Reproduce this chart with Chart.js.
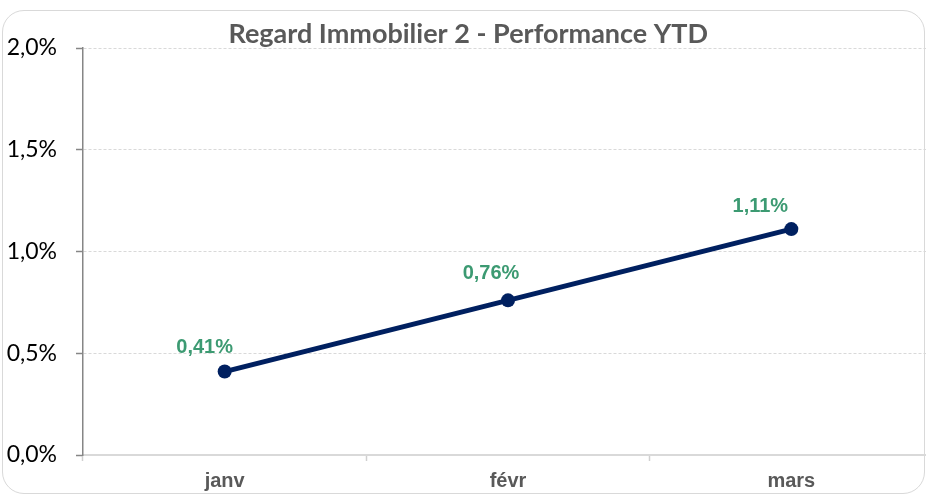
<!DOCTYPE html>
<html>
<head>
<meta charset="utf-8">
<script src="https://cdn.jsdelivr.net/npm/chart.js@4.4.1/dist/chart.umd.min.js"></script>
<style>
    html, body { margin: 0; padding: 0; background: #fff; overflow: hidden; }
    #cadre {
        position: absolute; left: 2px; top: 10px; width: 921px; height: 482px;
        border: 1px solid #d9d9d9; border-radius: 22px;
    }
    #zone { position: absolute; left: 0; top: 0; width: 940px; height: 497px; }
</style>
</head>
<body>
<div id="cadre"></div>
<div id="zone"><canvas id="grafico" width="940" height="497"></canvas></div>
<script>
const titre = 'Regard Immobilier 2 - Performance YTD';
const mois = ['janv', 'févr', 'mars'];
const performance = [0.41, 0.76, 1.11];
const ticksY = [0, 0.5, 1, 1.5, 2];

// petits décalages des étiquettes (placées à la main dans l'original)
const decalages = [[-20, -24], [-17, -27], [-31, -23]];

function pct(v, d) {
    return v.toFixed(d).replace('.', ',') + '%';
}

const etiquettes = {
    id: 'etiquettes',
    afterDatasetsDraw(chart) {
        const ctx = chart.ctx;
        const meta = chart.getDatasetMeta(0);
        ctx.save();
        ctx.font = 'bold 20px "Liberation Sans", Arial, sans-serif';
        ctx.fillStyle = '#3c9a72';
        ctx.textAlign = 'center';
        ctx.textBaseline = 'middle';
        meta.data.forEach((pt, i) => {
            const d = decalages[i];
            ctx.fillText(pct(performance[i], 2), pt.x + d[0], pt.y + d[1]);
        });
        ctx.restore();
    }
};

document.addEventListener('DOMContentLoaded', function() {
    const ctx = document.getElementById('grafico').getContext('2d');

    new Chart(ctx, {
        type: 'line',
        data: {
            labels: mois,
            datasets: [{
                label: titre,
                data: performance,
                borderColor: '#002060',
                backgroundColor: '#002060',
                borderWidth: 5,
                pointRadius: 7,
                pointHoverRadius: 7,
                pointBackgroundColor: '#002060',
                pointBorderWidth: 0,
                tension: 0
            }]
        },
        options: {
            responsive: false,
            animation: false,
            layout: { padding: { left: 0, right: 3.5, top: 0, bottom: 0 } },
            scales: {
                x: {
                    offset: true,
                    afterFit: function(scale) { scale.height = 42; },
                    grid: {
                        offset: true,
                        drawOnChartArea: false,
                        drawTicks: true,
                        tickLength: 6,
                        color: '#d0d0d0',
                        tickColor: '#d0d0d0',
                        tickWidth: 1.5
                    },
                    border: { display: true, color: '#d9d9d9', width: 2 },
                    ticks: {
                        padding: 8,
                        color: '#595959',
                        font: { family: '"Liberation Sans", Arial, sans-serif', size: 20, weight: 'bold' }
                    }
                },
                y: {
                    min: 0,
                    max: 2,
                    afterFit: function(scale) { scale.width = 83; },
                    afterBuildTicks: function(scale) {
                        scale.ticks = ticksY.map(v => ({ value: v }));
                    },
                    grid: {
                        color: '#d9d9d9',
                        lineWidth: 1,
                        tickLength: 7,
                        tickColor: '#868686',
                        tickWidth: 1.5
                    },
                    border: { display: true, color: '#868686', width: 1.5, dash: [3, 2] },
                    ticks: {
                        padding: 19,
                        color: '#000000',
                        font: { family: 'Lato, sans-serif', size: 23 },
                        callback: function(value) { return pct(value, 1); }
                    }
                }
            },
            plugins: {
                legend: { display: false },
                tooltip: { enabled: false },
                title: {
                    display: true,
                    text: titre,
                    color: '#595959',
                    font: { family: 'Lato, sans-serif', size: 27, weight: 'bold', lineHeight: 1 },
                    padding: { top: 21, bottom: 0 }
                }
            }
        },
        plugins: [etiquettes]
    });
});
</script>
</body>
</html>
